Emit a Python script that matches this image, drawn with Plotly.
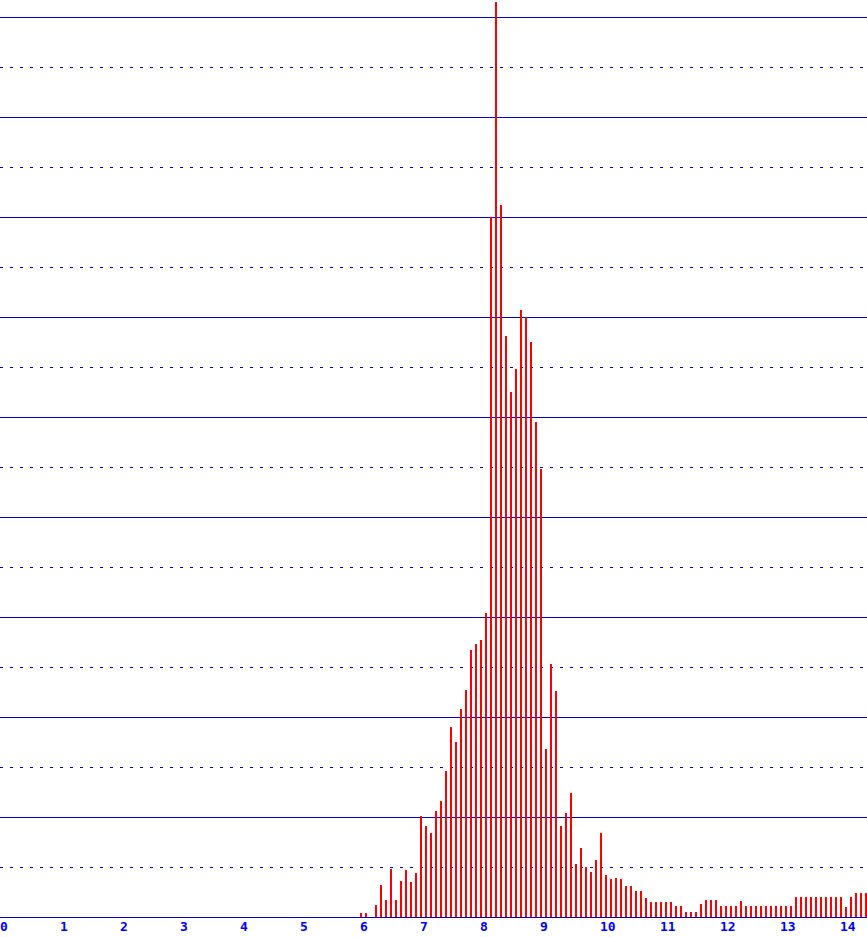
import plotly.graph_objects as go

# Bin positions (x) and bar heights
first_bin = 5.965
bin_step = 1 / 12
heights = [
    0.4, 0.4, 0.0, 1.2, 3.2, 1.7, 4.8, 1.7, 3.6, 4.7,
    3.5, 4.4, 10.1, 9.1, 8.4, 10.6, 11.6, 14.6, 19.0, 17.5,
    20.8, 22.7, 26.7, 27.3, 27.7, 30.4, 70.0, 91.5, 71.2, 58.1,
    52.5, 54.8, 60.7, 60.0, 57.5, 49.5, 44.8, 16.8, 25.3, 22.6,
    9.1, 10.4, 12.4, 5.3, 6.9, 5.0, 4.5, 5.7, 8.4, 4.2,
    3.8, 3.9, 3.8, 3.1, 3.1, 2.6, 2.6, 1.9, 1.5, 1.5,
    1.5, 1.5, 1.5, 1.1, 1.1, 0.5, 0.5, 0.5, 1.3, 1.7,
    1.7, 1.7, 1.1, 1.1, 1.1, 1.1, 1.6, 1.1, 1.1, 1.1,
    1.1, 1.1, 1.1, 1.1, 1.1, 1.1, 1.1, 2.0, 2.0, 2.0,
    2.0, 2.0, 2.0, 2.0, 2.0, 2.0, 2.0, 1.0, 2.0, 2.4,
    2.4, 2.4,
]
bins = [first_bin + k * bin_step for k in range(len(heights))]
x_ticks = list(range(0, 15))
x_tick_labels = [str(t) for t in x_ticks]

fig = go.Figure(
    go.Bar(
        x=bins,
        y=heights,
        width=0.034,
        marker=dict(color="#ff0000", line=dict(width=0)),
        hoverinfo="skip",
    )
)

fig.update_layout(
    width=867,
    height=937,
    margin=dict(l=0, r=0, t=0, b=20, pad=0),
    paper_bgcolor="white",
    plot_bgcolor="white",
    showlegend=False,
    bargap=0,
)

fig.update_xaxes(
    range=[-0.05, 14.4],
    tickmode="array",
    tickvals=x_ticks,
    ticktext=x_tick_labels,
    showgrid=False,
    zeroline=False,
    showline=False,
    ticks="",
    ticklabelposition="outside right",
    ticklabelshift=-3,
    ticklabelstandoff=0,
    tickfont=dict(family="DejaVu Sans Mono", size=13, color="#0000ff", weight="bold"),
)

fig.update_yaxes(
    range=[0, 91.7],
    dtick=10,
    tick0=0,
    showticklabels=False,
    showgrid=True,
    gridcolor="#0000cc",
    gridwidth=1,
    zeroline=True,
    zerolinecolor="#0000cc",
    zerolinewidth=1,
    ticks="",
    minor=dict(
        dtick=5,
        tick0=5,
        showgrid=True,
        gridcolor="#0000cc",
        gridwidth=1,
        griddash="3px,7px",
    ),
)

fig.write_html(
    "out.html",
    config={"displayModeBar": False},
    post_script="document.body.style.margin='0';document.body.style.overflow='hidden';",
)
